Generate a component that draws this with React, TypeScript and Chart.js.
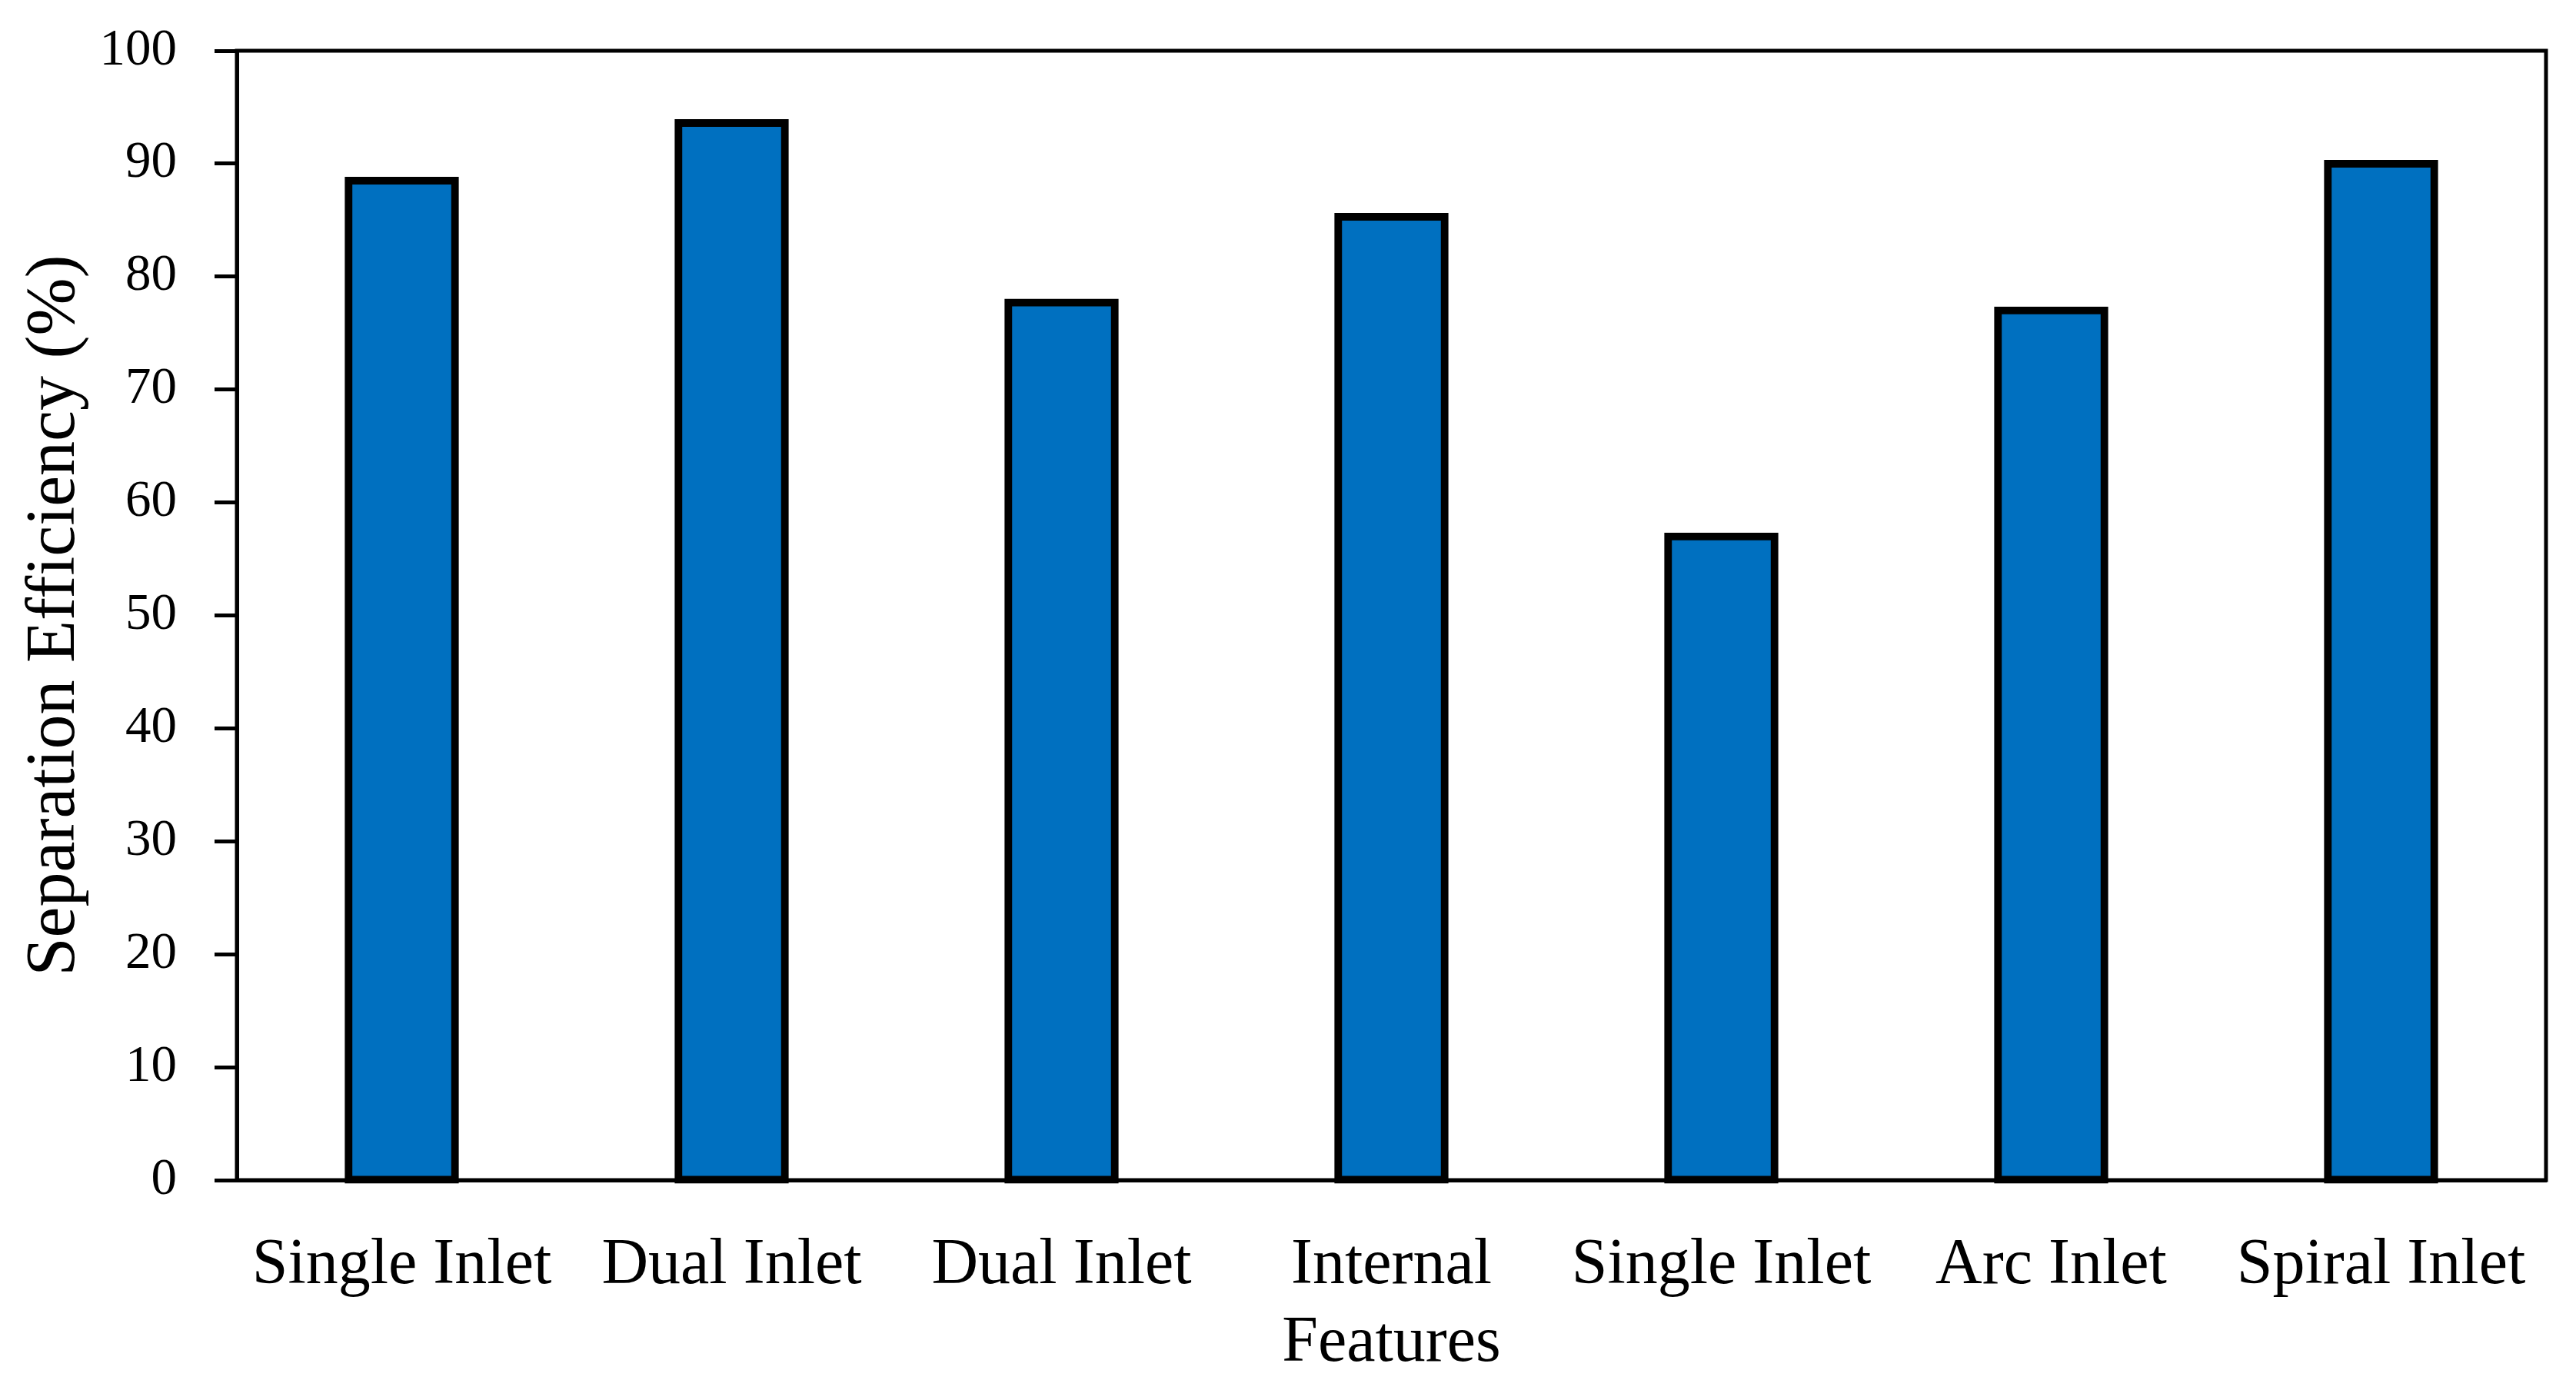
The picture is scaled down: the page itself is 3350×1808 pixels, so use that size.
import React, { useEffect, useRef } from "react";
import { Chart, registerables } from "chart.js";

Chart.register(...registerables);

const categories: (string | string[])[] = [
  "Single Inlet",
  "Dual Inlet",
  "Dual Inlet",
  ["Internal", "Features"],
  "Single Inlet",
  "Arc Inlet",
  "Spiral Inlet",
];
const efficiency: number[] = [88.5, 93.6, 77.7, 85.3, 57.0, 77.0, 90.0];
const yTitle = "Separation Efficiency (%)";
const yMin = 0;
const yMax = 100;
const yStep = 10;

const W = 3350;
const H = 1808;
const FONT = "'Liberation Serif', 'Times New Roman', serif";

const framePlugin = {
  id: "frame",
  afterDraw(chart: any) {
    const { ctx, chartArea } = chart;
    ctx.save();
    ctx.strokeStyle = "#000";
    ctx.lineWidth = 5;
    ctx.strokeRect(chartArea.left, chartArea.top, chartArea.right - chartArea.left, chartArea.bottom - chartArea.top);
    ctx.restore();
  },
};

export default function App() {
  const ref = useRef<HTMLCanvasElement | null>(null);
  useEffect(() => {
    if (!ref.current) return;
    const chart = new Chart(ref.current, {
      type: "bar",
      data: {
        labels: categories,
        datasets: [
          {
            data: efficiency,
            backgroundColor: "#0070C0",
            borderColor: "#000000",
            borderWidth: 10,
            borderSkipped: false,
            inflateAmount: 5,
            barPercentage: 0.323,
            categoryPercentage: 1,
            clip: false,
          } as any,
        ],
      },
      options: {
        animation: false,
        responsive: false,
        devicePixelRatio: 1,
        layout: { padding: { left: 0, top: 66, right: 39, bottom: 0 } },
        plugins: { legend: { display: false }, tooltip: { enabled: false } },
        scales: {
          x: {
            type: "category",
            grid: { display: false, drawTicks: false },
            border: { display: true, color: "#000", width: 5 },
            ticks: {
              color: "#000",
              font: { family: FONT, size: 84 },
              padding: 62,
              autoSkip: false,
              maxRotation: 0,
              minRotation: 0,
            },
            afterFit: (scale: any) => {
              scale.height = H - 1535;
              scale.paddingLeft = 0;
              scale.paddingRight = 0;
            },
          },
          y: {
            min: yMin,
            max: yMax,
            grid: {
              drawOnChartArea: false,
              drawTicks: true,
              tickLength: 29,
              tickWidth: 5,
              tickColor: "#000",
            },
            border: { display: true, color: "#000", width: 5 },
            ticks: {
              stepSize: yStep,
              color: "#000",
              font: { family: FONT, size: 67 },
              padding: 49,
            },
            title: {
              display: true,
              text: yTitle,
              color: "#000",
              font: { family: FONT, size: 90, weight: "normal" },
              padding: { top: 18, bottom: 0 },
            },
            afterFit: (scale: any) => {
              scale.width = 308;
              scale.paddingTop = 0;
              scale.paddingBottom = 0;
            },
          },
        },
      },
      plugins: [framePlugin],
    });
    return () => chart.destroy();
  }, []);
  return (
    <div style={{ position: "fixed", left: 0, top: 0, width: W, height: H, background: "#fff" }}>
      <canvas ref={ref} width={W} height={H} style={{ display: "block", width: W, height: H }} />
    </div>
  );
}
